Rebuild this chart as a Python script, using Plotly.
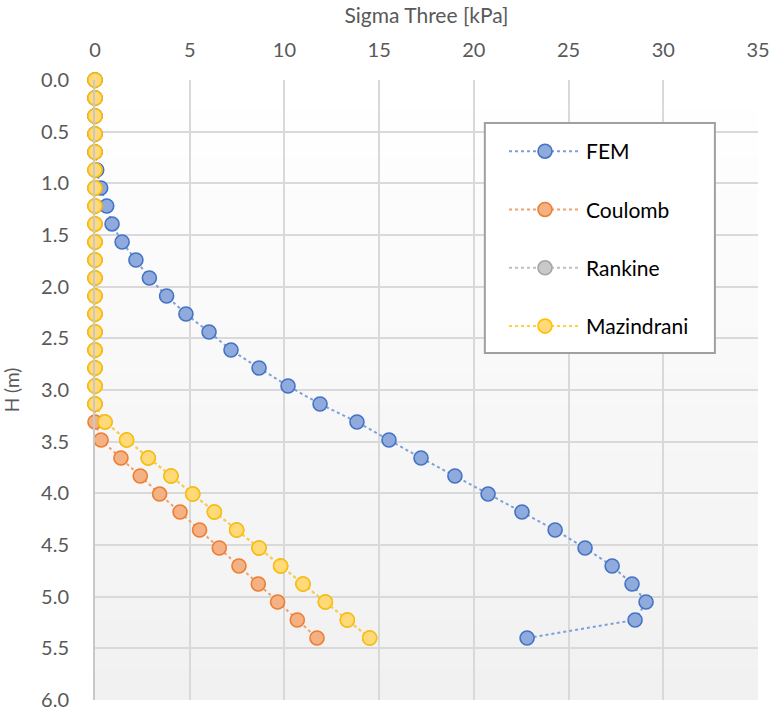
import plotly.graph_objects as go

# Depth H (m): 32 equally spaced levels from 0 to 5.4
H = [round(i * 5.4 / 31, 4) for i in range(32)]

fem = [0, 0, 0, 0, 0, 0.09, 0.3, 0.62, 0.9, 1.43, 2.16, 2.87, 3.78, 4.8, 6.02, 7.18,
       8.66, 10.19, 11.88, 13.83, 15.52, 17.21, 19.0, 20.75, 22.54, 24.29, 25.87,
       27.3, 28.35, 29.09, 28.51, 22.81]
coulomb = [0] * 19 + [0, 0.32, 1.37, 2.39, 3.41, 4.49, 5.52, 6.56, 7.6, 8.62, 9.64, 10.68, 11.72]
mazindrani = [0] * 19 + [0.53, 1.67, 2.81, 4.01, 5.16, 6.3, 7.48, 8.66, 9.8, 10.98, 12.16, 13.32, 14.5]
rankine = list(mazindrani)

series = [
    ("FEM", fem, "#4472c4", "#8faadc", "#7f9fd9"),
    ("Coulomb", coulomb, "#ed7d31", "#f4b183", "#f0a070"),
    ("Rankine", rankine, "#a5a5a5", "#c9c9c9", "#bfbfbf"),
    ("Mazindrani", mazindrani, "#ffc000", "#ffd97a", "#ffd040"),
]

x_ticks = [0, 5, 10, 15, 20, 25, 30, 35]
y_ticks = [0.0, 0.5, 1.0, 1.5, 2.0, 2.5, 3.0, 3.5, 4.0, 4.5, 5.0, 5.5, 6.0]

fig = go.Figure()
for i, (name, vals, edge, fill, linec) in enumerate(series):
    fig.add_trace(go.Scatter(
        x=vals, y=H, name=name, mode="lines+markers",
        legendgroup=name, cliponaxis=False,
        line=dict(color=linec, width=2, dash="dot"),
        marker=dict(size=14, color=fill, line=dict(color=edge, width=1.6)),
    ))

# subtle vertical gradient in plot area
n = 40
for k in range(n):
    t = k / (n - 1)
    v = int(round(255 - 14 * t))
    col = f"rgb({v},{v},{v})"
    fig.add_shape(type="rect", xref="x domain", yref="y domain",
                  x0=0, x1=1, y0=1 - (k + 1) / n, y1=1 - k / n + 0.001,
                  fillcolor=col, line=dict(width=0), layer="below")

# legend frame
fig.add_shape(type="rect", xref="paper", yref="paper",
              x0=0.588, x1=0.935, y0=0.5597, y1=0.9306,
              fillcolor="white", line=dict(color="#a0a0a0", width=2), layer="above")

font_family = "Lato, 'Open Sans', sans-serif"
fig.update_layout(
    width=772, height=714,
    margin=dict(l=95, r=14, t=80, b=14),
    paper_bgcolor="white", plot_bgcolor="white",
    font=dict(family=font_family, color="#595959", size=20),
    showlegend=True,
    legend=dict(
        x=0.6169, y=0.9177, xanchor="left", yanchor="top",
        bgcolor="rgba(0,0,0,0)", borderwidth=0,
        font=dict(size=21, color="#000000", family=font_family),
        traceorder="grouped", tracegroupgap=28,
        itemwidth=72,
    ),
    xaxis=dict(
        side="top", range=[0, 35], tickvals=x_ticks,
        ticktext=[str(v) for v in x_ticks],
        showgrid=True, gridcolor="#d9d9d9", gridwidth=1.5,
        zeroline=False, showline=False, ticks="", automargin=False,
        ticklabelstandoff=18,
        title=dict(text="Sigma Three [kPa]", font=dict(size=21, color="#595959"), standoff=7),
        tickfont=dict(size=20, color="#595959"),
    ),
    yaxis=dict(
        range=[6, 0], tickvals=y_ticks,
        ticktext=[f"{v:.1f}" for v in y_ticks],
        showgrid=True, gridcolor="#d9d9d9", gridwidth=1.5,
        zeroline=False, showline=True, linecolor="#c8c8c8", linewidth=2,
        ticks="", automargin=False, ticklabelstandoff=20,
        title=dict(text="H (m)", font=dict(size=19, color="#595959"), standoff=20),
        tickfont=dict(size=20, color="#595959"),
    ),
)

fig.write_html("out.html", config={"displayModeBar": False},
               post_script="document.body.style.margin='0';document.body.style.overflow='hidden';")
